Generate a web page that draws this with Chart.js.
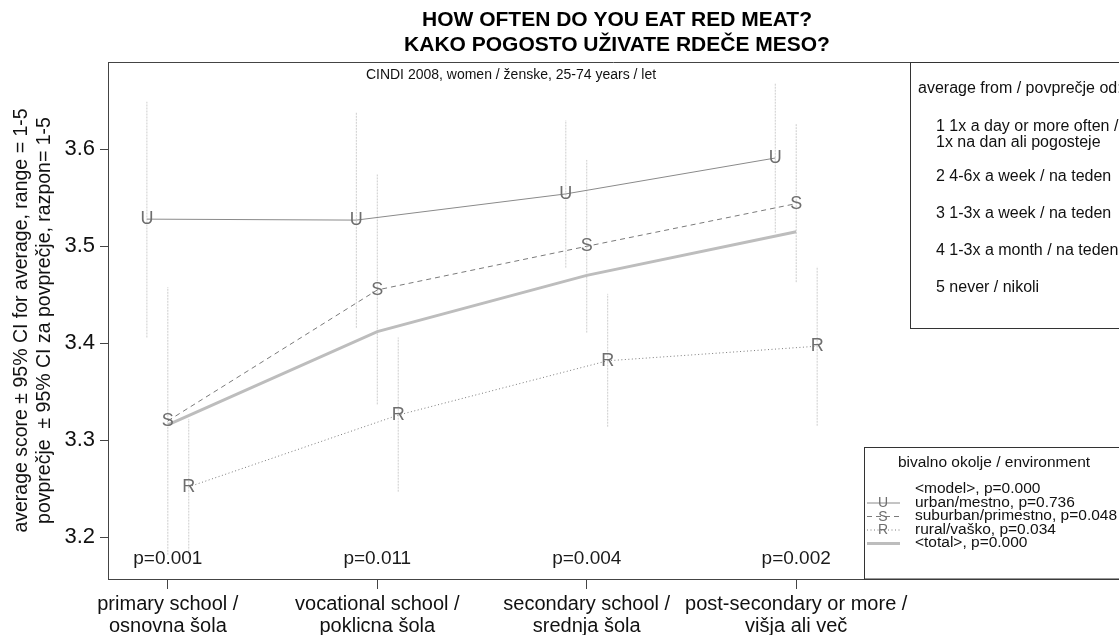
<!DOCTYPE html>
<html>
<head>
<meta charset="utf-8">
<title>How often do you eat red meat?</title>
<script src="https://cdn.jsdelivr.net/npm/chart.js@4.4.1/dist/chart.umd.min.js"></script>
<style>
  html, body { margin: 0; padding: 0; background: #ffffff; }
  #wrap { width: 1119px; height: 635px; position: relative; overflow: hidden; }
  canvas { display: block; }
</style>
</head>
<body>
<div id="wrap"><canvas id="chart" width="1119" height="635" style="width:1119px;height:635px"></canvas></div>
<script>
// Education groups (x axis), two-line labels
const categories = [
  ['primary school /', 'osnovna šola'],
  ['vocational school /', 'poklicna šola'],
  ['secondary school /', 'srednja šola'],
  ['post-secondary or more /', 'višja ali več']
];

// p-values per education group
const pValues = ['p=0.001', 'p=0.011', 'p=0.004', 'p=0.002'];

// Y axis ticks
const yTicks = [3.2, 3.3, 3.4, 3.5, 3.6];

// Averages and 95% CI bounds by environment
const urbanMean = [3.528, 3.527, 3.554, 3.591];
const urbanLow  = [3.406, 3.416, 3.478, 3.514];
const urbanHigh = [3.649, 3.638, 3.630, 3.668];

const suburbanMean = [3.320, 3.455, 3.500, 3.544];
const suburbanLow  = [3.182, 3.337, 3.411, 3.463];
const suburbanHigh = [3.458, 3.574, 3.589, 3.626];

const ruralMean = [3.252, 3.326, 3.382, 3.397];
const ruralLow  = [3.179, 3.247, 3.314, 3.315];
const ruralHigh = [3.322, 3.406, 3.451, 3.479];

const totalMean = [3.316, 3.412, 3.470, 3.515];

// Legend texts
const scaleLegendTitle = 'average from / povprečje od:';
const scaleLegendItems = [
  ['1 1x a day or more often /', '1x na dan ali pogosteje'],
  ['2 4-6x a week / na teden'],
  ['3 1-3x a week / na teden'],
  ['4 1-3x a month / na teden'],
  ['5 never / nikoli']
];
const envLegendTitle = 'bivalno okolje / environment';
const envLegendItems = [
  '<model>, p=0.000',
  'urban/mestno, p=0.736',
  'suburban/primestno, p=0.048',
  'rural/vaško, p=0.034',
  '<total>, p=0.000'
];

const titleLines = ['HOW OFTEN DO YOU EAT RED MEAT?', 'KAKO POGOSTO UŽIVATE RDEČE MESO?'];
const subtitle = 'CINDI 2008, women / ženske, 25-74 years / let';
const yTitle = ['average score ± 95% CI for average, range = 1-5', 'povprečje  ± 95% CI za povprečje, razpon= 1-5'];

const FONT = '"Liberation Sans", Arial, Helvetica, sans-serif';
Chart.defaults.font.family = FONT;
Chart.defaults.color = '#111';

function seriesPoints(values, off) {
  return values.map((v, i) => ({ x: i + off, y: v }));
}
function ciPoints(lo, hi, off) {
  const pts = [];
  lo.forEach((v, i) => {
    pts.push({ x: i + off, y: v }, { x: i + off, y: hi[i] }, { x: i + off, y: null });
  });
  return pts;
}

const CI_COLOR = '#cdcdcd';
const ciStyle = { borderColor: CI_COLOR, borderWidth: 1, borderDash: [2, 1], pointRadius: 0, spanGaps: false, order: 5, fill: false };

const datasets = [
  Object.assign({ label: 'ci-urban', data: ciPoints(urbanLow, urbanHigh, -0.1) }, ciStyle),
  Object.assign({ label: 'ci-suburban', data: ciPoints(suburbanLow, suburbanHigh, 0) }, ciStyle),
  Object.assign({ label: 'ci-rural', data: ciPoints(ruralLow, ruralHigh, 0.1) }, ciStyle),
  { label: '<total>', data: seriesPoints(totalMean, 0), borderColor: '#bdbdbd', borderWidth: 3, pointRadius: 0, order: 4, fill: false },
  { label: 'urban', letter: 'U', data: seriesPoints(urbanMean, -0.1), borderColor: '#8a8a8a', borderWidth: 1, pointRadius: 0, order: 1, fill: false },
  { label: 'suburban', letter: 'S', data: seriesPoints(suburbanMean, 0), borderColor: '#7a7a7a', borderWidth: 1, borderDash: [5, 4], pointRadius: 0, order: 2, fill: false },
  { label: 'rural', letter: 'R', data: seriesPoints(ruralMean, 0.1), borderColor: '#7a7a7a', borderWidth: 1, borderDash: [1, 2.5], pointRadius: 0, order: 3, fill: false }
];

// Draws the letter markers, the p-values, the top frame line, titles and the two legend boxes
const decorations = {
  id: 'decorations',
  afterDatasetsDraw(chart) {
    const ctx = chart.ctx;
    const area = chart.chartArea;
    const xs = chart.scales.x;
    ctx.save();
    // letter markers at each mean
    ctx.font = '18px ' + FONT;
    ctx.fillStyle = '#6e6e6e';
    ctx.textAlign = 'center';
    ctx.textBaseline = 'middle';
    chart.data.datasets.forEach((ds, di) => {
      if (!ds.letter) return;
      chart.getDatasetMeta(di).data.forEach(el => {
        ctx.fillText(ds.letter, el.x, el.y);
      });
    });
    // p-values above the x axis
    ctx.font = '19px ' + FONT;
    ctx.fillStyle = '#1a1a1a';
    pValues.forEach((p, i) => {
      ctx.fillText(p, xs.getPixelForValue(i), area.bottom - 20);
    });
    // top frame line
    ctx.strokeStyle = '#444';
    ctx.lineWidth = 1;
    ctx.beginPath();
    ctx.moveTo(area.left, area.top + 0.5);
    ctx.lineTo(area.right, area.top + 0.5);
    ctx.stroke();
    ctx.restore();
  },
  afterDraw(chart) {
    const ctx = chart.ctx;
    const area = chart.chartArea;
    ctx.save();
    ctx.fillStyle = '#000';
    ctx.textAlign = 'center';
    ctx.textBaseline = 'middle';
    ctx.font = 'bold 21px ' + FONT;
    ctx.fillText(titleLines[0], 617, 20);
    ctx.fillText(titleLines[1], 617, 45);
    ctx.font = '14px ' + FONT;
    ctx.fillStyle = '#111';
    ctx.fillText(subtitle, 511, 75);

    // response scale legend
    ctx.strokeStyle = '#333';
    ctx.lineWidth = 1;
    ctx.fillStyle = '#fff';
    ctx.fillRect(910.5, area.top + 0.5, 260, 266);
    ctx.strokeRect(910.5, area.top + 0.5, 260, 266);
    ctx.fillStyle = '#111';
    ctx.textAlign = 'left';
    ctx.font = '16px ' + FONT;
    ctx.fillText(scaleLegendTitle, 918, 89);
    const rowTop = [127, 177, 214, 251, 288];
    scaleLegendItems.forEach((lines, r) => {
      lines.forEach((t, k) => ctx.fillText(t, 936, rowTop[r] + k * 16));
    });

    // environment legend
    ctx.fillStyle = '#fff';
    ctx.fillRect(864.5, 447.5, 300, area.bottom - 447.5);
    ctx.strokeRect(864.5, 447.5, 300, area.bottom - 447.5);
    ctx.fillStyle = '#111';
    ctx.font = '15.5px ' + FONT;
    ctx.textAlign = 'center';
    ctx.fillText(envLegendTitle, 994, 463);
    ctx.textAlign = 'left';
    const rowY = [489, 502.5, 516, 529.5, 543];
    envLegendItems.forEach((t, i) => ctx.fillText(t, 915, rowY[i]));
    const samples = [null, datasets[4], datasets[5], datasets[6], datasets[3]];
    samples.forEach((ds, i) => {
      if (!ds) return;
      ctx.save();
      ctx.strokeStyle = ds.borderColor;
      ctx.lineWidth = ds.borderWidth;
      ctx.setLineDash(ds.borderDash || []);
      ctx.beginPath();
      ctx.moveTo(867, rowY[i] + 0.5);
      ctx.lineTo(900, rowY[i] + 0.5);
      ctx.stroke();
      ctx.restore();
      if (ds.letter) {
        ctx.fillStyle = '#6e6e6e';
        ctx.textAlign = 'center';
        ctx.font = '14px ' + FONT;
        ctx.fillText(ds.letter, 883, rowY[i] + 1);
        ctx.textAlign = 'left';
        ctx.font = '15.5px ' + FONT;
        ctx.fillStyle = '#111';
      }
    });
    ctx.restore();
  }
};

new Chart(document.getElementById('chart').getContext('2d'), {
  type: 'line',
  data: { datasets },
  options: {
    responsive: false,
    animation: false,
    devicePixelRatio: 1,
    layout: { padding: { top: 62, right: 0, bottom: 0, left: 0 } },
    plugins: { legend: { display: false }, tooltip: { enabled: false }, title: { display: false } },
    scales: {
      x: {
        type: 'linear',
        min: -0.2856,
        max: 4.541,
        afterFit(s) { s.height = 56; },
        afterBuildTicks(s) { s.ticks = categories.map((_, i) => ({ value: i })); },
        ticks: {
          autoSkip: false, maxRotation: 0, minRotation: 0,
          padding: 4,
          font: { size: 20, lineHeight: 1.1 }, color: '#111',
          callback: (v) => categories[v]
        },
        grid: { drawOnChartArea: false, drawTicks: true, tickLength: 10, color: '#444' },
        border: { display: true, color: '#444', width: 1 }
      },
      y: {
        type: 'linear',
        min: 3.157,
        max: 3.690,
        afterFit(s) { s.width = 108; },
        afterBuildTicks(s) { s.ticks = yTicks.map(v => ({ value: v })); },
        ticks: { font: { size: 22 }, color: '#111', padding: 5, callback: (v) => v.toFixed(1) },
        grid: { drawOnChartArea: false, drawTicks: true, tickLength: 8, color: '#444' },
        border: { display: true, color: '#444', width: 1 },
        title: { display: true, text: yTitle, font: { size: 19.5, lineHeight: 1.18 }, color: '#111', padding: { top: 10, bottom: 0 } }
      }
    }
  },
  plugins: [decorations]
});
</script>
</body>
</html>
